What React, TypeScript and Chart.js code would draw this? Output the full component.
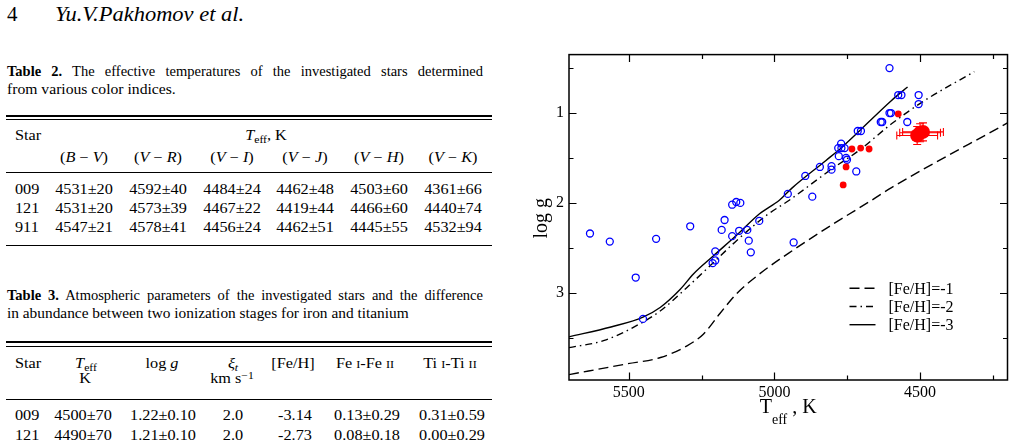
import React, { useEffect, useRef } from "react";
import { Chart, registerables } from "chart.js";
Chart.register(...registerables);

const FONT = '"Liberation Serif", "Times New Roman", serif';

// ---------- chart data ----------
// comparison stars (blue open circles)
const compTeff = [4605, 4575, 4564, 4505, 4505, 4605, 4600, 4635, 4630, 4544, 4714, 4703, 4771, 4781, 4770, 4759, 4779, 4754, 4751, 4804, 4804, 4844, 4719, 4894, 4954, 4870, 5145, 5131, 5117, 5052, 5171, 5289, 5181, 5121, 5093, 5145, 5633, 5565, 5406, 5088, 4934, 5081, 5203, 5203, 5212, 5476, 5451];
const compLogg = [0.50, 0.80, 0.80, 0.80, 0.90, 1.00, 1.00, 1.10, 1.10, 1.10, 1.20, 1.20, 1.34, 1.39, 1.39, 1.39, 1.48, 1.50, 1.52, 1.59, 1.63, 1.60, 1.65, 1.70, 1.90, 1.93, 2.02, 1.99, 2.00, 2.20, 2.19, 2.26, 2.30, 2.31, 2.30, 2.37, 2.34, 2.43, 2.40, 2.42, 2.44, 2.55, 2.54, 2.64, 2.67, 2.83, 3.29];
// program stars (red filled)
const progTeff = [4575, 4734, 4704, 4675, 4754, 4764];
const progLogg = [1.01, 1.40, 1.39, 1.40, 1.60, 1.80];
// investigated stars with error bars
const mainTeff = [4500, 4490, 4510];
const mainTeffErr = [70, 70, 70];
const mainLogg = [1.22, 1.21, 1.25];
const mainLoggErr = [0.10, 0.10, 0.10];

// evolutionary tracks
const trackLabels = ["[Fe/H]=-1", "[Fe/H]=-2", "[Fe/H]=-3"];
const track1Teff = [5705, 5505, 5391, 5300, 5244, 5187, 5130, 5051, 4938, 4791, 4666, 4598, 4200];
const track1Logg = [3.91, 3.79, 3.72, 3.59, 3.46, 3.23, 3.01, 2.79, 2.53, 2.22, 1.97, 1.83, 1.11];
const track2Teff = [5705, 5584, 5459, 5391, 5300, 5221, 5130, 5028, 4949, 4802, 4711, 4598, 4484, 4314];
const track2Logg = [3.61, 3.53, 3.34, 3.20, 2.94, 2.70, 2.42, 2.14, 1.97, 1.62, 1.42, 1.12, 0.86, 0.54];
const track3Teff = [5705, 5561, 5451, 5391, 5323, 5278, 5210, 5130, 5051, 4983, 4938, 4824, 4768, 4598, 4543];
const track3Logg = [3.49, 3.38, 3.27, 3.16, 2.96, 2.79, 2.59, 2.36, 2.12, 1.97, 1.83, 1.53, 1.38, 0.86, 0.71];

const xMajorTicks = [5500, 5000, 4500];
const xMinorTicks = [5250, 4750, 4250];
const yMajorTicks = [1, 2, 3];
const yMinorTicks = [0.5, 1.5, 2.5, 3.5];

// ---------- table data ----------
const t2Stars = ["009", "121", "911"];
const t2Index = [["B", "V"], ["V", "R"], ["V", "I"], ["V", "J"], ["V", "H"], ["V", "K"]];
const t2Vals = [
  ["4531±20", "4592±40", "4484±24", "4462±48", "4503±60", "4361±66"],
  ["4531±20", "4573±39", "4467±22", "4419±44", "4466±60", "4440±74"],
  ["4547±21", "4578±41", "4456±24", "4462±51", "4445±55", "4532±94"],
];
const t2ColX = [84, 158, 232, 305, 379, 453];

const t3Stars = ["009", "121"];
const t3Vals = [
  ["4500±70", "1.22±0.10", "2.0", "-3.14", "0.13±0.29", "0.31±0.59"],
  ["4490±70", "1.21±0.10", "2.0", "-2.73", "0.08±0.18", "0.00±0.29"],
];
const t3ColX = [83, 163, 233, 295, 367, 452];

type TP = {
  x: number; y: number; size: number; align?: "left" | "center" | "right"; sx?: number;
  italic?: boolean; bold?: boolean; width?: number; justify?: boolean; children: React.ReactNode;
};
function Txt(p: TP) {
  const align = p.align || "left";
  const sx = p.sx ?? 1;
  const tx = align === "center" ? "translateX(-50%) " : align === "right" ? "translateX(-100%) " : "";
  return (
    <div
      style={{
        position: "absolute", left: p.x, top: p.y - 0.8375 * p.size, fontFamily: FONT,
        fontSize: p.size, lineHeight: p.size + "px", whiteSpace: "nowrap",
        fontStyle: p.italic ? "italic" : "normal", fontWeight: p.bold ? "bold" : "normal",
        transform: tx + `scaleX(${sx})`, transformOrigin: align, width: p.width,
        textAlign: p.justify ? "justify" : undefined,
        textAlignLast: p.justify ? "justify" : undefined, color: "#000",
      } as React.CSSProperties}
    >
      {p.children}
    </div>
  );
}
function Rule({ y, h }: { y: number; h: number }) {
  return <div style={{ position: "absolute", left: 6, width: 486, top: y - h / 2, height: h, background: "#000" }} />;
}
const Sub = ({ children, italic }: { children: React.ReactNode; italic?: boolean }) => (
  <span style={{ fontSize: "0.72em", position: "relative", top: "0.3em", fontStyle: italic ? "italic" : "normal" }}>{children}</span>
);
const Sup = ({ children }: { children: React.ReactNode }) => (
  <span style={{ fontSize: "0.72em", position: "relative", top: "-0.45em" }}>{children}</span>
);
const SC = ({ children }: { children: React.ReactNode }) => <span style={{ fontSize: "0.75em" }}>{children}</span>;

function ChartPanel() {
  const ref = useRef<HTMLCanvasElement | null>(null);
  useEffect(() => {
    const canvas = ref.current!;
    const pts = (xs: number[], ys: number[]) => xs.map((v, i) => ({ x: v, y: ys[i] }));
    const dashes: number[][] = [[10, 5], [7, 4, 1.5, 4], []];

    const framePlugin = {
      id: "frameTicks",
      afterDatasetsDraw(chart: any) {
        const { ctx, scales } = chart;
        const xs = scales.x, ys = scales.y;
        ctx.save();
        ctx.strokeStyle = "#ff0000";
        ctx.lineWidth = 1.1;
        ctx.setLineDash([]);
        mainTeff.forEach((t, i) => {
          const px = xs.getPixelForValue(t);
          const py = ys.getPixelForValue(mainLogg[i]);
          const x1 = xs.getPixelForValue(t - mainTeffErr[i]);
          const x2 = xs.getPixelForValue(t + mainTeffErr[i]);
          const y1 = ys.getPixelForValue(mainLogg[i] - mainLoggErr[i]);
          const y2 = ys.getPixelForValue(mainLogg[i] + mainLoggErr[i]);
          ctx.beginPath();
          ctx.moveTo(x1, py); ctx.lineTo(x2, py);
          ctx.moveTo(x1, py - 4); ctx.lineTo(x1, py + 4);
          ctx.moveTo(x2, py - 4); ctx.lineTo(x2, py + 4);
          ctx.moveTo(px, y1); ctx.lineTo(px, y2);
          ctx.moveTo(px - 4, y1); ctx.lineTo(px + 4, y1);
          ctx.moveTo(px - 4, y2); ctx.lineTo(px + 4, y2);
          ctx.stroke();
        });
        ctx.restore();
      },
      afterDraw(chart: any) {
        const { ctx, chartArea: a, scales } = chart;
        const xs = scales.x, ys = scales.y;
        ctx.save();
        ctx.strokeStyle = "#000";
        ctx.setLineDash([]);
        ctx.lineWidth = 1.5;
        ctx.strokeRect(a.left, a.top, a.right - a.left, a.bottom - a.top);
        ctx.lineWidth = 1.2;
        const xt = (vals: number[], len: number) => vals.forEach((v) => {
          const p = Math.round(xs.getPixelForValue(v)) + 0.5;
          ctx.beginPath();
          ctx.moveTo(p, a.bottom); ctx.lineTo(p, a.bottom - len);
          ctx.moveTo(p, a.top); ctx.lineTo(p, a.top + len);
          ctx.stroke();
        });
        const yt = (vals: number[], len: number) => vals.forEach((v) => {
          const p = Math.round(ys.getPixelForValue(v)) + 0.5;
          ctx.beginPath();
          ctx.moveTo(a.left, p); ctx.lineTo(a.left + len, p);
          ctx.moveTo(a.right, p); ctx.lineTo(a.right - len, p);
          ctx.stroke();
        });
        xt(xMajorTicks, 7.5); xt(xMinorTicks, 4.5);
        yt(yMajorTicks, 7.5); yt(yMinorTicks, 4.5);

        // legend
        ctx.fillStyle = "#000";
        ctx.font = `16px ${FONT}`;
        ctx.textBaseline = "middle";
        ctx.textAlign = "left";
        trackLabels.forEach((lab, i) => {
          const ly = a.top + 233.7 + i * 18.2;
          ctx.lineWidth = 1.4;
          ctx.setLineDash(dashes[i]);
          ctx.beginPath();
          ctx.moveTo(a.right - 158, ly); ctx.lineTo(a.right - 132, ly);
          ctx.stroke();
          ctx.setLineDash([]);
          ctx.fillText(lab, a.right - 119, ly + 1);
        });

        // axis titles
        ctx.textBaseline = "alphabetic";
        ctx.font = `20px ${FONT}`;
        const wT = ctx.measureText("T").width;
        ctx.font = `14px ${FONT}`;
        const wE = ctx.measureText("eff").width;
        ctx.font = `20px ${FONT}`;
        const wK = ctx.measureText(" , K").width;
        let tx = (a.left + a.right) / 2 - (wT + wE + wK) / 2;
        const by = a.bottom + 33;
        ctx.fillText("T", tx, by); tx += wT;
        ctx.font = `14px ${FONT}`;
        ctx.fillText("eff", tx, by + 11); tx += wE;
        ctx.font = `20px ${FONT}`;
        ctx.fillText(" , K", tx, by);

        ctx.save();
        ctx.translate(a.left - 22, (a.top + a.bottom) / 2 + 1);
        ctx.rotate(-Math.PI / 2);
        ctx.textAlign = "center";
        ctx.font = `20px ${FONT}`;
        ctx.fillText("log g", 0, 0);
        ctx.restore();
        ctx.restore();
      },
    };

    const chart = new Chart(canvas, {
      type: "scatter",
      data: {
        datasets: [
          { label: "main", data: pts(mainTeff, mainLogg), pointRadius: 7, pointBackgroundColor: "#ff0000", pointBorderColor: "#ff0000", pointBorderWidth: 0, showLine: false } as any,
          { label: "program", data: pts(progTeff, progLogg), pointRadius: 3.4, pointBackgroundColor: "#ff0000", pointBorderColor: "#ff0000", pointBorderWidth: 0, showLine: false },
          { label: "comparison", data: pts(compTeff, compLogg), pointRadius: 3.5, pointBackgroundColor: "rgba(0,0,0,0)", pointBorderColor: "#0000ff", pointBorderWidth: 1.3, showLine: false },
          { label: trackLabels[0], data: pts(track1Teff, track1Logg), showLine: true, pointRadius: 0, borderColor: "#000", borderWidth: 1.4, borderDash: dashes[0], cubicInterpolationMode: "monotone" },
          { label: trackLabels[1], data: pts(track2Teff, track2Logg), showLine: true, pointRadius: 0, borderColor: "#000", borderWidth: 1.4, borderDash: dashes[1], cubicInterpolationMode: "monotone" },
          { label: trackLabels[2], data: pts(track3Teff, track3Logg), showLine: true, pointRadius: 0, borderColor: "#000", borderWidth: 1.4, borderDash: dashes[2], cubicInterpolationMode: "monotone" },
        ] as any,
      },
      options: {
        animation: false,
        responsive: false,
        devicePixelRatio: 1,
        layout: { padding: { left: 0, right: 8.5, top: 14, bottom: 0 } },
        plugins: { legend: { display: false }, tooltip: { enabled: false } },
        scales: {
          x: {
            type: "linear", reverse: true, min: 4200, max: 5705, position: "bottom",
            grid: { display: false, drawTicks: false }, border: { display: false },
            afterBuildTicks: (s: any) => { s.ticks = xMajorTicks.map((v) => ({ value: v })); },
            afterFit: (s: any) => { s.height = 65; },
            ticks: { font: { family: FONT, size: 16 }, color: "#000", padding: 3, maxRotation: 0, autoSkip: false, callback: (v: any) => String(v) },
          },
          y: {
            type: "linear", reverse: true, min: 0.35, max: 3.97, position: "left",
            grid: { display: false, drawTicks: false }, border: { display: false },
            afterBuildTicks: (s: any) => { s.ticks = yMajorTicks.map((v) => ({ value: v })); },
            afterFit: (s: any) => { s.width = 49; },
            ticks: { font: { family: FONT, size: 16 }, color: "#000", padding: 5, autoSkip: false, callback: (v: any) => String(v) },
          },
        },
      } as any,
      plugins: [framePlugin],
    });
    return () => chart.destroy();
  }, []);
  return <canvas ref={ref} width={496} height={405} style={{ position: "absolute", left: 520, top: 40, width: 496, height: 405, display: "block" }} />;
}

export default function App() {
  const TS = 14; // table font size
  const TSX = 1.16;
  return (
    <div style={{ position: "absolute", left: 0, top: 0, width: 1016, height: 445, overflow: "hidden", background: "#fff" }}>
      {/* running head */}
      <Txt x={7} y={22} size={21}>4</Txt>
      <Txt x={55} y={22} size={21} italic sx={1.07}>Yu.V.Pakhomov et al.</Txt>

      {/* Table 2 caption */}
      <Txt x={7} y={76} size={14.5} width={476} justify><b>Table 2.</b> The effective temperatures of the investigated stars determined</Txt>
      <Txt x={7} y={94} size={14.5} sx={1.08}>from various color indices.</Txt>

      {/* Table 2 */}
      <Rule y={115.7} h={1.7} />
      <Rule y={119.4} h={1} />
      <Txt x={15} y={140.7} size={TS} sx={TSX}>Star</Txt>
      <Txt x={266} y={140.7} size={TS} sx={TSX} align="center"><i>T</i><Sub>eff</Sub>, K</Txt>
      {t2Index.map((c, i) => (
        <Txt key={"h" + i} x={t2ColX[i]} y={162.5} size={TS} sx={TSX} align="center">(<i>{c[0]}</i> − <i>{c[1]}</i>)</Txt>
      ))}
      <Rule y={172.7} h={1.5} />
      {t2Stars.map((s, r) => (
        <React.Fragment key={"r" + r}>
          <Txt x={15} y={194.3 + r * 19.2} size={TS} sx={TSX}>{s}</Txt>
          {t2Vals[r].map((v, c) => (
            <Txt key={c} x={t2ColX[c]} y={194.3 + r * 19.2} size={TS} sx={TSX} align="center">{v}</Txt>
          ))}
        </React.Fragment>
      ))}
      <Rule y={245.7} h={1.5} />

      {/* Table 3 caption */}
      <Txt x={7} y={300.5} size={14.5} width={476} justify><b>Table 3.</b> Atmospheric parameters of the investigated stars and the difference</Txt>
      <Txt x={7} y={318} size={14.5} sx={1.06}>in abundance between two ionization stages for iron and titanium</Txt>

      {/* Table 3 */}
      <Rule y={342.3} h={1.7} />
      <Rule y={346.1} h={1} />
      <Txt x={15} y={368.3} size={TS} sx={TSX}>Star</Txt>
      <Txt x={86} y={368.3} size={TS} sx={TSX} align="center"><i>T</i><Sub>eff</Sub></Txt>
      <Txt x={85} y={384} size={TS} sx={TSX} align="center">K</Txt>
      <Txt x={162} y={368.3} size={TS} sx={TSX} align="center">log <i>g</i></Txt>
      <Txt x={233} y={368.3} size={TS} sx={TSX} align="center"><i>ξ</i><Sub italic>t</Sub></Txt>
      <Txt x={232} y={384} size={TS} sx={TSX} align="center">km s<Sup>−1</Sup></Txt>
      <Txt x={293} y={368.3} size={TS} sx={TSX} align="center">[Fe/H]</Txt>
      <Txt x={365} y={368.3} size={TS} sx={TSX} align="center">Fe <SC>I</SC>-Fe <SC>II</SC></Txt>
      <Txt x={450} y={368.3} size={TS} sx={TSX} align="center">Ti <SC>I</SC>-Ti <SC>II</SC></Txt>
      <Rule y={399.3} h={1.5} />
      {t3Stars.map((s, r) => (
        <React.Fragment key={"s" + r}>
          <Txt x={15} y={421 + r * 19.3} size={TS} sx={TSX}>{s}</Txt>
          {t3Vals[r].map((v, c) => (
            <Txt key={c} x={t3ColX[c]} y={421 + r * 19.3} size={TS} sx={TSX} align="center">{v}</Txt>
          ))}
        </React.Fragment>
      ))}

      <ChartPanel />
    </div>
  );
}
